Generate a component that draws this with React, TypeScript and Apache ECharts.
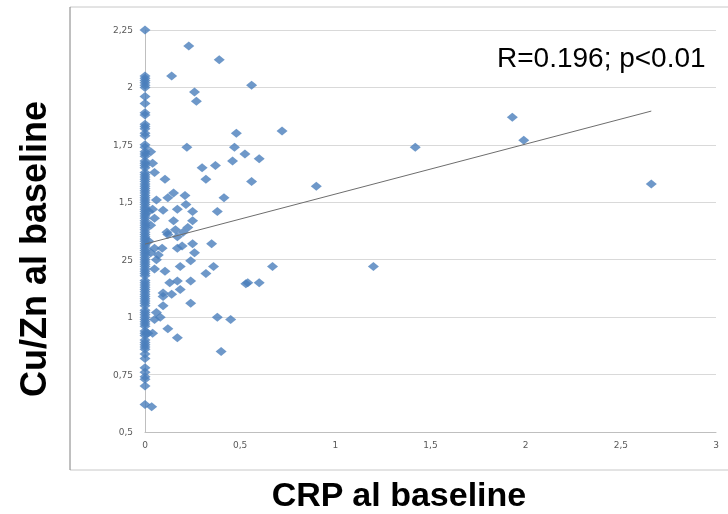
import React, { useEffect, useRef } from "react";
import * as echarts from "echarts";

// Points lying on the y-axis (CRP = 0)
const axisY = [2.25, 2.05, 2.04, 2.03, 2.02, 2.01, 2.0, 1.96, 1.93, 1.89, 1.88, 1.84, 1.83, 1.82, 1.8, 1.79,
  1.75, 1.74, 1.72, 1.71, 1.7, 1.68, 1.67, 1.66, 1.65, 1.63, 1.62, 1.61, 1.6, 1.59, 1.58, 1.57, 1.56, 1.55,
  1.54, 1.53, 1.52, 1.51, 1.5, 1.49, 1.48, 1.47, 1.46, 1.45, 1.44, 1.43, 1.42, 1.41, 1.4, 1.39, 1.38, 1.37,
  1.36, 1.35, 1.34, 1.33, 1.32, 1.31, 1.3, 1.29, 1.28, 1.27, 1.26, 1.25, 1.24, 1.23, 1.22, 1.21, 1.2, 1.19,
  1.18, 1.16, 1.15, 1.14, 1.13, 1.12, 1.11, 1.1, 1.09, 1.08, 1.07, 1.06, 1.05, 1.03, 1.02, 1.01, 1.0, 0.99,
  0.98, 0.97, 0.96, 0.94, 0.93, 0.92, 0.9, 0.89, 0.88, 0.87, 0.86, 0.84, 0.82, 0.78, 0.76, 0.74, 0.73, 0.7, 0.62];

// Points off the axis
const crpValues = [0.23, 0.39, 0.14, 0.56, 0.26, 0.27, 1.93, 0.48, 0.72, 0.22, 0.47, 1.42, 0.525, 0.6, 1.99,
  0.3, 0.37, 0.46, 0.32, 0.56, 0.9, 2.66, 0.415, 1.2, 0.67, 0.53, 0.54, 0.6, 0.38, 0.45, 0.4,
  0.04, 0.03, 0.05, 0.105, 0.15, 0.12, 0.21, 0.06, 0.04, 0.095, 0.17, 0.215, 0.25, 0.38, 0.05, 0.15, 0.25,
  0.03, 0.225, 0.16, 0.12, 0.17, 0.115, 0.2, 0.25, 0.35, 0.195, 0.17, 0.09, 0.05, 0.07, 0.26, 0.06, 0.24,
  0.05, 0.185, 0.36, 0.105, 0.32, 0.13, 0.17, 0.24, 0.185, 0.095, 0.14, 0.095, 0.24, 0.095, 0.06, 0.08,
  0.05, 0.12, 0.04, 0.17, 0.035, 0.02, 0.02, 0.03, 0.015];
const cuznValues = [2.18, 2.12, 2.05, 2.01, 1.98, 1.94, 1.87, 1.8, 1.81, 1.74, 1.74, 1.74, 1.71, 1.69, 1.77,
  1.65, 1.66, 1.68, 1.6, 1.59, 1.57, 1.58, 1.52, 1.22, 1.22, 1.145, 1.15, 1.15, 1.0, 0.99, 0.85,
  1.67, 1.72, 1.63, 1.6, 1.54, 1.52, 1.53, 1.51, 1.47, 1.465, 1.47, 1.49, 1.46, 1.46, 1.43, 1.42, 1.42,
  1.4, 1.39, 1.38, 1.36, 1.35, 1.37, 1.37, 1.32, 1.32, 1.31, 1.3, 1.3, 1.3, 1.27, 1.28, 1.25, 1.245,
  1.21, 1.22, 1.22, 1.2, 1.19, 1.15, 1.157, 1.157, 1.12, 1.105, 1.1, 1.09, 1.06, 1.05, 1.02, 1.0,
  0.99, 0.95, 0.93, 0.91, 0.61, 1.46, 1.33, 1.28, 0.93];

const trendX = [0, 2.66];
const trendY = [1.318, 1.897];

const xTicks = ["0", "0,5", "1", "1,5", "2", "2,5", "3"];
const yTicks = ["0,5", "0,75", "1", "25", "1,5", "1,75", "2", "2,25"];

const statText = "R=0.196; p<0.01";
const xTitle = "CRP al baseline";
const yTitle = "Cu/Zn al baseline";

export default function App() {
  const ref = useRef<HTMLDivElement>(null);
  useEffect(() => {
    if (!ref.current) return;
    const chart = echarts.init(ref.current, null, { renderer: "svg" });
    const points: number[][] = [];
    axisY.forEach((y) => points.push([0, y]));
    crpValues.forEach((x, i) => points.push([x, cuznValues[i]]));
    const tickFont = { fontFamily: "DejaVu Sans", fontSize: 9, color: "#595959" };
    chart.setOption({
      animation: false,
      grid: { left: 145, right: 12, top: 30, bottom: 82, containLabel: false },
      xAxis: {
        type: "value", min: 0, max: 3, interval: 0.5,
        axisLine: { show: true, lineStyle: { color: "#bfbfbf", width: 1 } },
        axisTick: { show: false },
        splitLine: { show: false },
        axisLabel: { ...tickFont, margin: 8, formatter: (v: number) => xTicks[Math.round(v / 0.5)] },
      },
      yAxis: {
        type: "value", min: 0.5, max: 2.25, interval: 0.25,
        axisLine: { show: true, lineStyle: { color: "#bfbfbf", width: 1 } },
        axisTick: { show: false },
        splitLine: { show: true, lineStyle: { color: "#d9d9d9", width: 1 } },
        axisLabel: { ...tickFont, margin: 12, formatter: (v: number) => yTicks[Math.round((v - 0.5) / 0.25)] },
      },
      series: [
        {
          type: "scatter", data: points, symbol: "diamond", symbolSize: [11, 9],
          itemStyle: { color: "#4A7EBB" },
        },
        {
          type: "line", data: trendX.map((x, i) => [x, trendY[i]]), symbol: "none",
          lineStyle: { color: "#6d6d6d", width: 1 }, z: 5,
        },
      ],
      graphic: [
        { type: "line", shape: { x1: 70, y1: 7, x2: 728, y2: 7 }, style: { stroke: "#c8c8c8", lineWidth: 1 } },
        { type: "line", shape: { x1: 70, y1: 470, x2: 728, y2: 470 }, style: { stroke: "#c8c8c8", lineWidth: 1 } },
        { type: "line", shape: { x1: 70, y1: 7, x2: 70, y2: 470 }, style: { stroke: "#808080", lineWidth: 1 } },
        {
          type: "text", x: 497, y: 57,
          style: { text: statText, font: "28px 'Liberation Sans'", fill: "#000", textAlign: "left", textVerticalAlign: "middle" },
        },
        {
          type: "text", x: 399, y: 494,
          style: { text: xTitle, font: "bold 34px 'Liberation Sans'", fill: "#000", textAlign: "center", textVerticalAlign: "middle" },
        },
        {
          type: "text", x: 33, y: 249, rotation: Math.PI / 2,
          style: { text: yTitle, font: "bold 36px 'Liberation Sans'", fill: "#000", textAlign: "center", textVerticalAlign: "middle" },
        },
      ],
    });
    return () => chart.dispose();
  }, []);
  return <div ref={ref} style={{ position: "fixed", left: 0, top: 0, width: 728, height: 514 }} />;
}
